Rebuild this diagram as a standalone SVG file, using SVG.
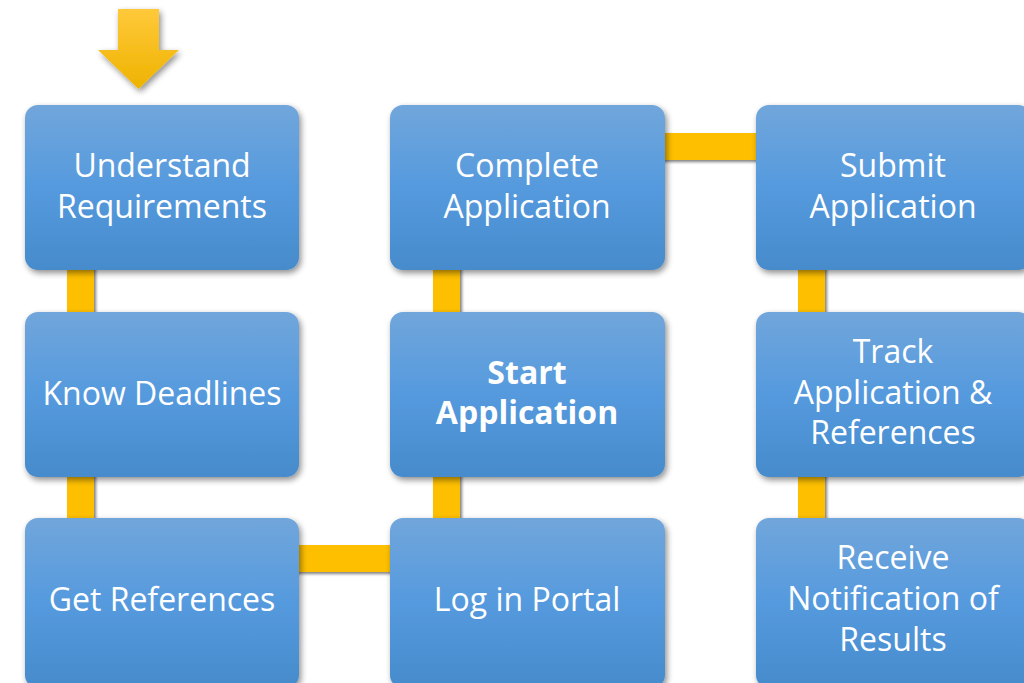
<svg xmlns="http://www.w3.org/2000/svg" width="1024" height="683" viewBox="0 0 1024 683">
<defs>
<linearGradient id="nodeGrad" x1="0" y1="0" x2="0" y2="1">
<stop offset="0" stop-color="#71a6db"/>
<stop offset="0.5" stop-color="#559ade"/>
<stop offset="1" stop-color="#468bcb"/>
</linearGradient>
<linearGradient id="arrowGrad" x1="0" y1="0" x2="0" y2="1">
<stop offset="0" stop-color="#ffc93a"/>
<stop offset="1" stop-color="#eeb300"/>
</linearGradient>
<filter id="shadow" x="-10%" y="-10%" width="125%" height="125%">
<feGaussianBlur in="SourceAlpha" stdDeviation="3"/>
<feOffset dx="2" dy="3" result="b"/>
<feComponentTransfer><feFuncA type="linear" slope="0.45"/></feComponentTransfer>
<feMerge><feMergeNode/><feMergeNode in="SourceGraphic"/></feMerge>
</filter>
<filter id="cshadow" x="-20%" y="-20%" width="150%" height="150%">
<feGaussianBlur in="SourceAlpha" stdDeviation="1.5"/>
<feOffset dx="2" dy="2" result="b"/>
<feComponentTransfer><feFuncA type="linear" slope="0.5"/></feComponentTransfer>
<feMerge><feMergeNode/><feMergeNode in="SourceGraphic"/></feMerge>
</filter>
</defs>
<style>
.node rect { fill: url(#nodeGrad); filter: url(#shadow); }
.node text { fill: #ffffff; font-family: "Open Sans", "Liberation Sans", sans-serif; font-size: 32px; text-anchor: middle; }
.node text.bold { font-weight: bold; }
.conn rect { fill: #fdbf00; filter: url(#cshadow); }
</style>
<rect width="1024" height="683" fill="#ffffff"/>
<g id="start-arrow" filter="url(#shadow)">
<path d="M118,9 H159 V50 H179 L138.5,89 L98,50 H118 Z" fill="url(#arrowGrad)"/>
</g>
<g id="connectors" class="conn">
<rect x="67" y="260" width="27" height="62"/>
<rect x="67" y="467" width="27" height="62"/>
<rect x="289" y="545" width="111" height="27"/>
<rect x="433" y="467" width="27" height="62"/>
<rect x="433" y="260" width="27" height="62"/>
<rect x="655" y="133" width="111" height="27"/>
<rect x="798" y="260" width="27" height="62"/>
<rect x="798" y="467" width="27" height="62"/>
</g>
<g id="n1" class="node">
<rect x="25" y="105" width="274" height="165" rx="13"/>
<text x="162" y="177">Understand</text>
<text x="162" y="218">Requirements</text>
</g>
<g id="n2" class="node">
<rect x="25" y="312" width="274" height="165" rx="13"/>
<text x="162" y="405">Know Deadlines</text>
</g>
<g id="n3" class="node">
<rect x="25" y="518" width="274" height="170" rx="13"/>
<text x="162" y="611">Get References</text>
</g>
<g id="n4" class="node">
<rect x="390" y="518" width="275" height="170" rx="13"/>
<text x="527" y="611">Log in Portal</text>
</g>
<g id="n5" class="node">
<rect x="390" y="312" width="275" height="165" rx="13"/>
<text class="bold" x="527" y="384">Start</text>
<text class="bold" x="527" y="424">Application</text>
</g>
<g id="n6" class="node">
<rect x="390" y="105" width="275" height="165" rx="13"/>
<text x="527" y="177">Complete</text>
<text x="527" y="218">Application</text>
</g>
<g id="n7" class="node">
<rect x="756" y="105" width="275" height="165" rx="13"/>
<text x="893" y="177">Submit</text>
<text x="893" y="218">Application</text>
</g>
<g id="n8" class="node">
<rect x="756" y="312" width="275" height="165" rx="13"/>
<text x="893" y="363">Track</text>
<text x="893" y="404">Application &amp;</text>
<text x="893" y="444">References</text>
</g>
<g id="n9" class="node">
<rect x="756" y="518" width="275" height="170" rx="13"/>
<text x="893" y="569">Receive</text>
<text x="893" y="610">Notification of</text>
<text x="893" y="651">Results</text>
</g>
</svg>
